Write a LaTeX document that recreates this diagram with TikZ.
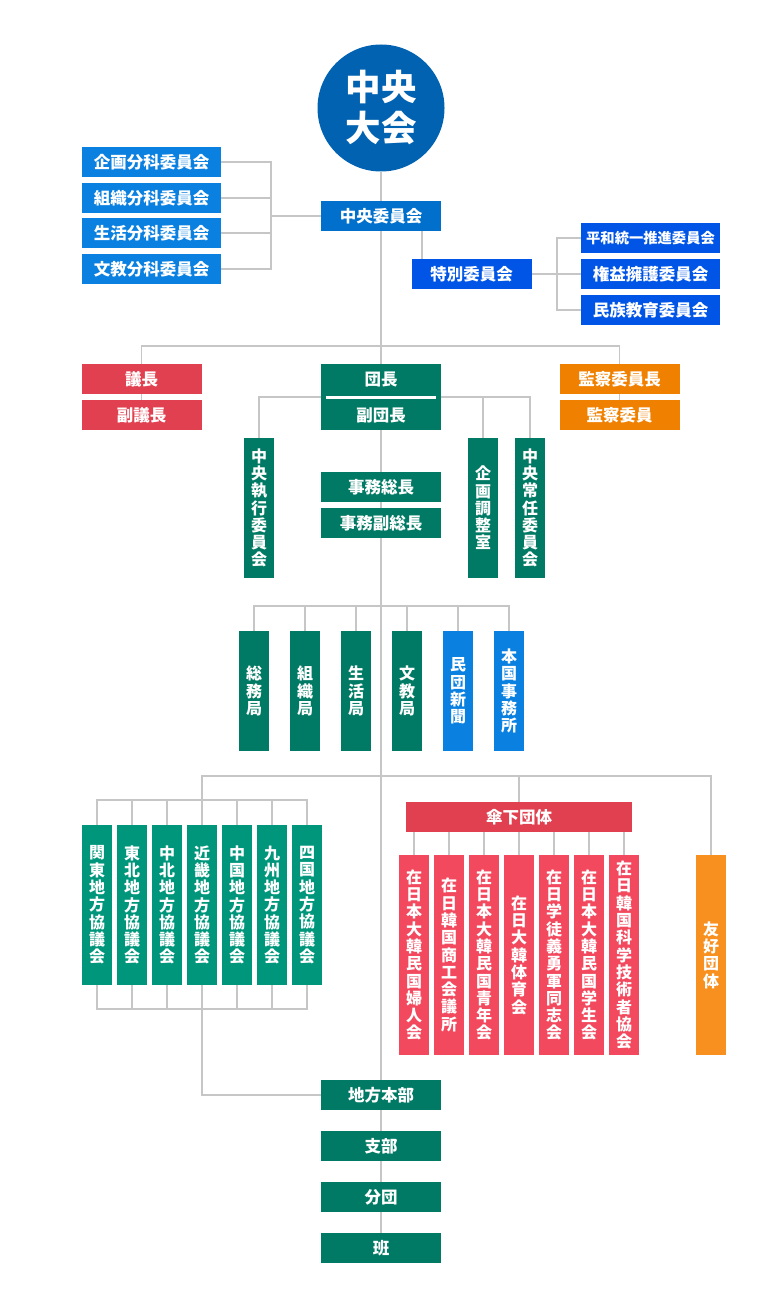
\documentclass[tikz,border=0pt]{standalone}
\usepackage{fontspec}
\newfontfamily\jp{Noto Sans CJK JP}
\usetikzlibrary{backgrounds}
\definecolor{cCircle}{HTML}{0062B0}
\definecolor{cCC}{HTML}{0070CC}
\definecolor{cBlueL}{HTML}{0A80E0}
\definecolor{cBlueT}{HTML}{0055E6}
\definecolor{cGreen}{HTML}{007A64}
\definecolor{cGreenL}{HTML}{00967C}
\definecolor{cRed}{HTML}{E04050}
\definecolor{cPink}{HTML}{F2495E}
\definecolor{cOrange}{HTML}{F08000}
\definecolor{cOrangeL}{HTML}{F89020}
\definecolor{cLine}{HTML}{C6C6C6}
\tikzset{
  conn/.style={draw=cLine, line width=1.3pt},
  hbox/.style={rectangle, inner sep=0pt, minimum width=120pt, minimum height=30pt,
    text=white, font=\jp\bfseries\fontsize{16.5}{18}\selectfont},
  wbox/.style={hbox, minimum width=139pt},
  vbox/.style={rectangle, inner sep=0pt, minimum width=30pt, align=center,
    text=white, font=\jp\bfseries\fontsize{16}{17.3}\selectfont},
}
\begin{document}
\begin{tikzpicture}[x=1pt, y=-1pt]
\useasboundingbox (0,0) rectangle (763,1308);
% top
\node[circle, fill=cCircle, minimum size=127pt, inner sep=0pt, text=white, align=center,
  font=\jp\bfseries\fontsize{35.5}{41}\selectfont] (taikai) at (381,108) {中央\\大会};
\node[hbox, fill=cCC] (cc) at (381,216) {中央委員会};
\node[wbox, fill=cBlueL] (l1) at (151.5,162) {企画分科委員会};
\node[wbox, fill=cBlueL] (l2) at (151.5,198) {組織分科委員会};
\node[wbox, fill=cBlueL] (l3) at (151.5,233) {生活分科委員会};
\node[wbox, fill=cBlueL] (l4) at (151.5,269) {文教分科委員会};
\node[hbox, fill=cBlueT] (tok) at (471.5,274) {特別委員会};
\node[wbox, fill=cBlueT, font=\jp\bfseries\fontsize{14.3}{16}\selectfont] (r1) at (650.5,238) {平和統一推進委員会};
\node[wbox, fill=cBlueT] (r2) at (650.5,274) {権益擁護委員会};
\node[wbox, fill=cBlueT] (r3) at (650.5,310) {民族教育委員会};
\coordinate (lj) at (271,216);
\coordinate (rj) at (557,274);
% second tier
\node[hbox, fill=cRed] (gicho) at (141.5,379) {議長};
\node[hbox, fill=cRed] (fgicho) at (141.5,415) {副議長};
\node[hbox, fill=cOrange] (kansa) at (619.5,379) {監察委員長};
\node[hbox, fill=cOrange] (kansa2) at (619.5,415) {監察委員};
\node[rectangle, fill=cGreen, minimum width=120pt, minimum height=66pt, inner sep=0pt] (dancho) at (381,397) {};
\node[text=white, font=\jp\bfseries\fontsize{16.5}{18}\selectfont] (dancho1) at (381,379) {団長};
\node[text=white, font=\jp\bfseries\fontsize{16.5}{18}\selectfont] (dancho2) at (381,415) {副団長};
\coordinate (hj) at (381,346);
\node[vbox, fill=cGreen, minimum height=140pt] (cx) at (259,508) {中\\央\\執\\行\\委\\員\\会};
\node[vbox, fill=cGreen, minimum height=140pt] (kikaku) at (483,508) {企\\画\\調\\整\\室};
\node[vbox, fill=cGreen, minimum height=140pt] (joumu) at (530,508) {中\\央\\常\\任\\委\\員\\会};
\node[hbox, fill=cGreen] (jimu1) at (381,487) {事務総長};
\node[hbox, fill=cGreen] (jimu2) at (381,523) {事務副総長};
% bureaus
\node[vbox, fill=cGreen, minimum height=120pt] (b1) at (254,691) {総\\務\\局};
\node[vbox, fill=cGreen, minimum height=120pt] (b2) at (305,691) {組\\織\\局};
\node[vbox, fill=cGreen, minimum height=120pt] (b3) at (356,691) {生\\活\\局};
\node[vbox, fill=cGreen, minimum height=120pt] (b4) at (407,691) {文\\教\\局};
\node[vbox, fill=cBlueL, minimum height=120pt] (b5) at (458,691) {民\\団\\新\\聞};
\node[vbox, fill=cBlueL, minimum height=120pt] (b6) at (509,691) {本\\国\\事\\務\\所};
\coordinate (bj) at (381,606);
% councils
\node[vbox, fill=cGreenL, minimum height=160pt] (k1) at (97,905) {関\\東\\地\\方\\協\\議\\会};
\node[vbox, fill=cGreenL, minimum height=160pt] (k2) at (132,905) {東\\北\\地\\方\\協\\議\\会};
\node[vbox, fill=cGreenL, minimum height=160pt] (k3) at (167,905) {中\\北\\地\\方\\協\\議\\会};
\node[vbox, fill=cGreenL, minimum height=160pt] (k4) at (202,905) {近\\畿\\地\\方\\協\\議\\会};
\node[vbox, fill=cGreenL, minimum height=160pt] (k5) at (237,905) {中\\国\\地\\方\\協\\議\\会};
\node[vbox, fill=cGreenL, minimum height=160pt] (k6) at (272,905) {九\\州\\地\\方\\協\\議\\会};
\node[vbox, fill=cGreenL, minimum height=160pt] (k7) at (307,905) {四\\国\\地\\方\\協\\議\\会};
\coordinate (cj) at (381,776);
\coordinate (kt) at (202,800);
\coordinate (kb) at (202,1009);
% umbrella
\node[hbox, fill=cRed, minimum width=226pt] (sanka) at (519,817) {傘下団体};
\node[vbox, fill=cPink, minimum height=200pt] (m1) at (414,955) {在\\日\\本\\大\\韓\\民\\国\\婦\\人\\会};
\node[vbox, fill=cPink, minimum height=200pt] (m2) at (449,955) {在\\日\\韓\\国\\商\\工\\会\\議\\所};
\node[vbox, fill=cPink, minimum height=200pt] (m3) at (484,955) {在\\日\\本\\大\\韓\\民\\国\\青\\年\\会};
\node[vbox, fill=cPink, minimum height=200pt] (m4) at (519,955) {在\\日\\大\\韓\\体\\育\\会};
\node[vbox, fill=cPink, minimum height=200pt] (m5) at (554,955) {在\\日\\学\\徒\\義\\勇\\軍\\同\\志\\会};
\node[vbox, fill=cPink, minimum height=200pt] (m6) at (589,955) {在\\日\\本\\大\\韓\\民\\国\\学\\生\\会};
\node[vbox, fill=cPink, minimum height=200pt] (m7) at (624,955) {在\\日\\韓\\国\\科\\学\\技\\術\\者\\協\\会};
\node[vbox, fill=cOrangeL, minimum height=200pt] (yuko) at (711,955) {友\\好\\団\\体};
% bottom chain
\node[hbox, fill=cGreen] (chiho) at (381,1095) {地方本部};
\node[hbox, fill=cGreen] (shibu) at (381,1146) {支部};
\node[hbox, fill=cGreen] (bundan) at (381,1197) {分団};
\node[hbox, fill=cGreen] (han) at (381,1248) {班};
% white divider
\draw[white, line width=3pt] ([xshift=5pt]dancho.west) -- ([xshift=-5pt]dancho.east);
\begin{pgfonlayer}{background}
\draw[conn] (taikai.south) -- (han.north);
\foreach \n in {l1,l2,l3,l4} \draw[conn] (\n.east) -| (lj);
\draw[conn] (lj) -- (cc.west);
\draw[conn] ([xshift=41pt]cc.south) -- ([xshift=41pt]cc.south |- tok.north);
\draw[conn] (tok.east) -- (rj);
\foreach \n in {r1,r2,r3} \draw[conn] (\n.west) -| (rj);
\draw[conn] (gicho.north) |- (hj) -| (kansa.north);
\draw[conn] (gicho.south) -- (fgicho.north);
\draw[conn] (kansa.south) -- (kansa2.north);
\draw[conn] (cx.north) |- (dancho.west);
\draw[conn] (dancho.east) -| (kikaku.north);
\draw[conn] (dancho.east) -| (joumu.north);
\draw[conn] (b1.north) |- (bj) -| (b6.north);
\foreach \n in {b2,b3,b4,b5} \draw[conn] (\n.north) -- (\n.north |- bj);
\draw[conn] (k4.north) |- (cj) -| (yuko.north);
\draw[conn] (sanka.north) -- (sanka.north |- cj);
\draw[conn] (k1.north) |- (kt) -| (k7.north);
\foreach \n in {k2,k3,k5,k6} \draw[conn] (\n.north) -- (\n.north |- kt);
\draw[conn] (k1.south) |- (kb) -| (k7.south);
\foreach \n in {k2,k3,k5,k6} \draw[conn] (\n.south) -- (\n.south |- kb);
\draw[conn] (k4.south) |- (chiho.west);
\foreach \n in {m1,m2,m3,m4,m5,m6,m7} \draw[conn] (\n.north) -- (\n.north |- sanka.south);
\end{pgfonlayer}
\end{tikzpicture}
\end{document}
